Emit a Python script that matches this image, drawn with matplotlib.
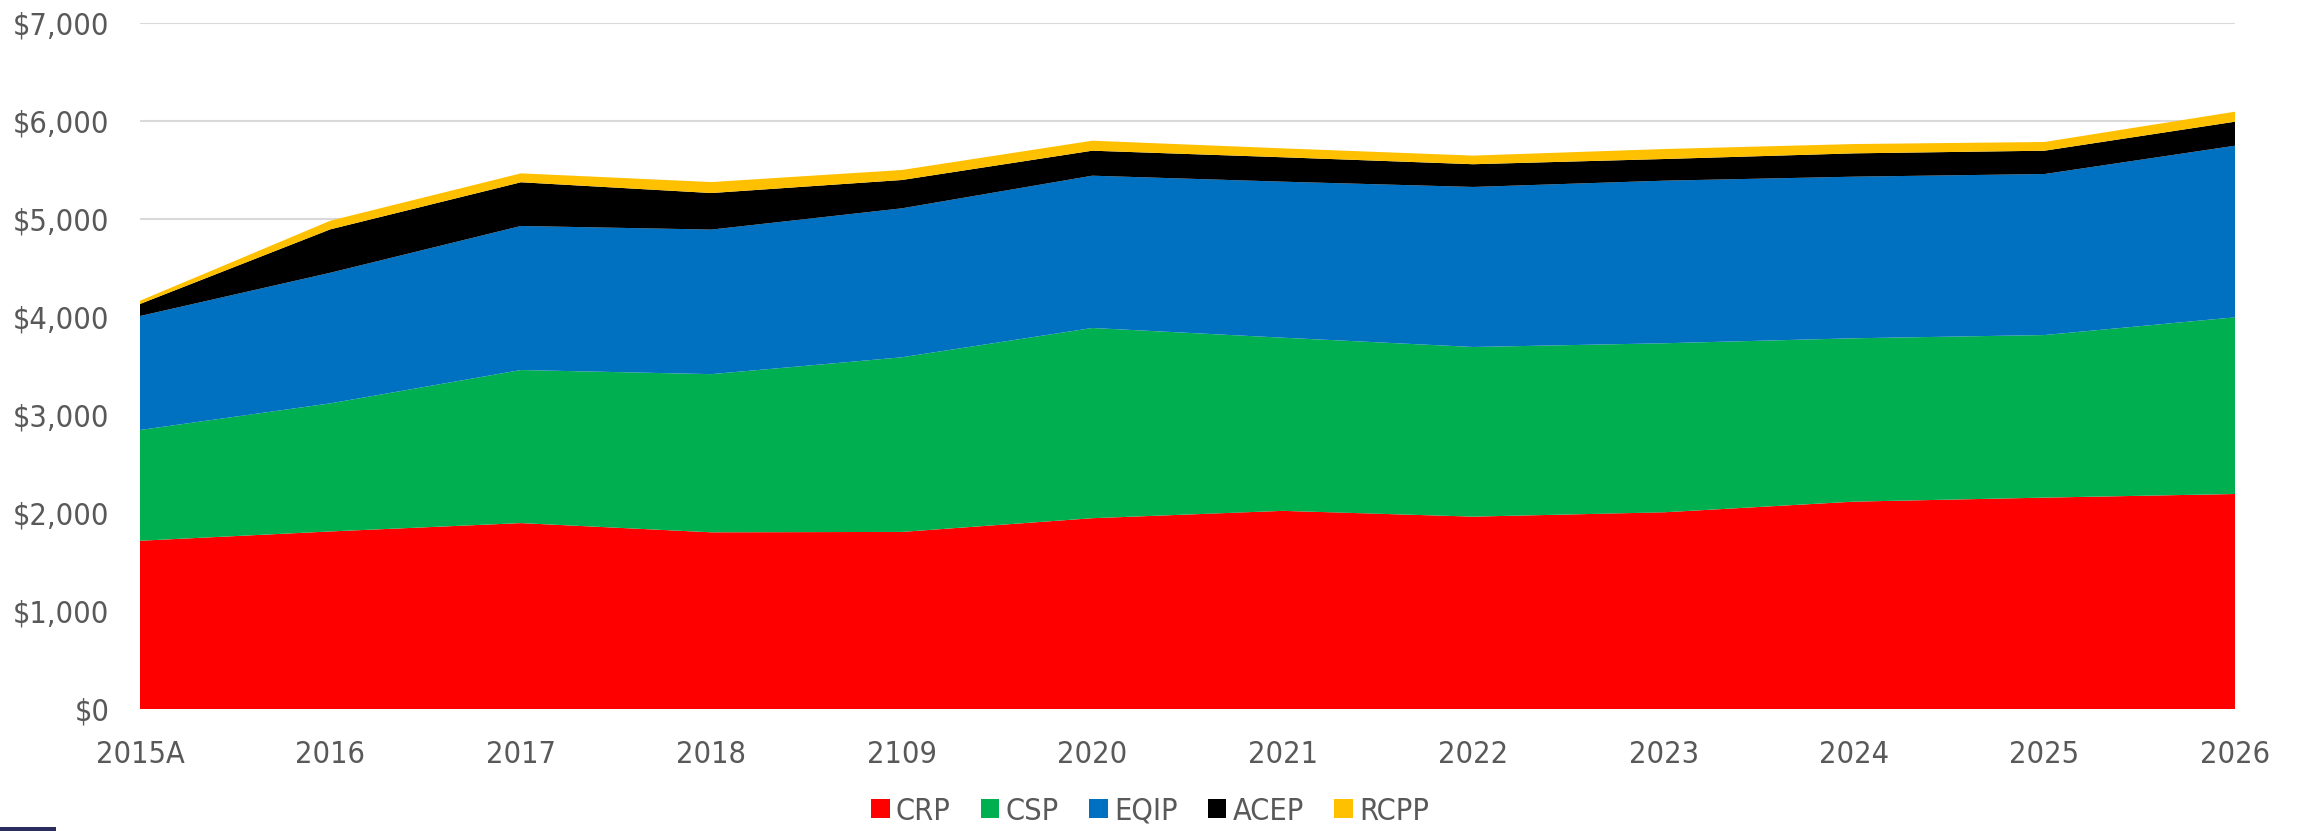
import matplotlib
matplotlib.use("Agg")
import matplotlib.pyplot as plt
from matplotlib.patches import Rectangle
from matplotlib.ticker import FuncFormatter
from matplotlib import font_manager

plt.rcParams['font.family'] = ['DejaVu Sans']
plt.rcParams['font.stretch'] = 'condensed'
print([f.name + ' ' + str(f.stretch) for f in font_manager.fontManager.ttflist if 'Condensed' in f.fname or 'Narrow' in f.fname])

years = ['2015A', '2016', '2017', '2018', '2109', '2020', '2021', '2022',
         '2023', '2024', '2025', '2026']

# values in $ millions
crp = [1720, 1815, 1900, 1806, 1810, 1950, 2025, 1966, 2010, 2119, 2160, 2197]
csp = [1130, 1307, 1562, 1614, 1782, 1941, 1767, 1731, 1725, 1667, 1659, 1803]
eqip = [1163, 1333, 1470, 1475, 1520, 1554, 1592, 1633, 1659, 1649, 1643, 1751]
acep = [123, 443, 446, 373, 289, 255, 249, 232, 221, 238, 238, 245]
rcpp = [33, 88, 91, 112, 102, 102, 91, 88, 102, 95, 89, 102]

labels = ['CRP', 'CSP', 'EQIP', 'ACEP', 'RCPP']
colors = ['#FF0000', '#00B050', '#0070C0', '#000000', '#FFC000']
text_color = '#595959'

fig = plt.figure(figsize=(23, 8.31), dpi=100)
ax = fig.add_axes([140 / 2300, 1 - 709.3 / 831, (2235 - 140) / 2300, (709.3 - 23.3) / 831])

x = list(range(len(years)))
ax.stackplot(x, crp, csp, eqip, acep, rcpp, labels=labels, colors=colors,
             linewidth=0, zorder=2)

ax.set_xlim(0, len(years) - 1)
ax.set_ylim(0, 7000)
ax.set_yticks(range(0, 7001, 1000))
ax.yaxis.set_major_formatter(FuncFormatter(lambda v, p: f'${v:,.0f}'))
ax.set_xticks(x)
ax.set_xticklabels(years)

ax.grid(axis='y', color='#D9D9D9', linewidth=1.5, zorder=0)
ax.set_axisbelow(True)
for s in ax.spines.values():
    s.set_visible(False)
ax.tick_params(length=0, labelsize=22, labelcolor=text_color)
ax.tick_params(axis='x', pad=22)
ax.tick_params(axis='y', pad=22)

fig.legend(loc='center', bbox_to_anchor=(0.5, 1 - 811 / 831), ncol=5,
           frameon=False, fontsize=22, labelcolor=text_color,
           handlelength=0.6, handleheight=0.6, handletextpad=0.2,
           columnspacing=1.0)

# small dark strip at the bottom-left corner
fig.patches.append(Rectangle((0, 0), 56 / 2300, 4 / 831, transform=fig.transFigure,
                             facecolor='#2B2D5E', edgecolor='none'))

fig.savefig('out.png', dpi=100)
